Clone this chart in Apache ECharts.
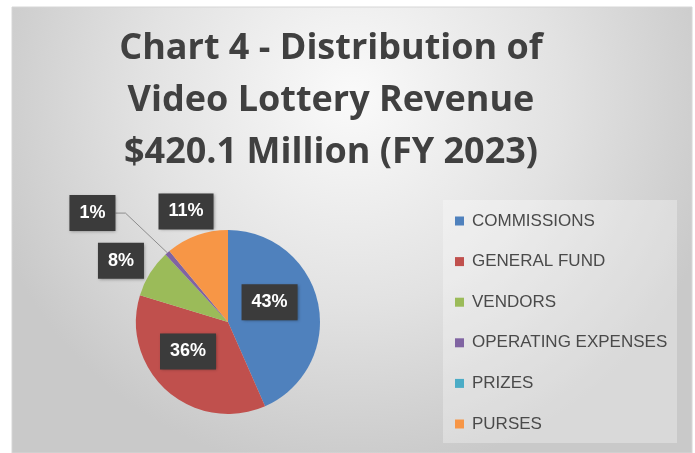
<!DOCTYPE html>
<html>
<head>
<meta charset="utf-8">
<script src="https://cdn.jsdelivr.net/npm/echarts@6/dist/echarts.min.js"></script>
<style>
html,body{margin:0;padding:0;background:#fff;}
#main{width:695px;height:453px;}
</style>
</head>
<body>
<div id="main"></div>
<script>
// ---- data ----
const titleLines = ['Chart 4 - Distribution of', 'Video Lottery Revenue', '$420.1 Million (FY 2023)'];
const categories = ['COMMISSIONS', 'GENERAL FUND', 'VENDORS', 'OPERATING EXPENSES', 'PRIZES', 'PURSES'];
const shares = [43.4, 36.3, 8.4, 0.9, 0, 11.0]; // percent of total revenue
const colors = ['#4F81BD', '#C0504D', '#9BBB59', '#8064A2', '#4BACC6', '#F79646'];

// ---- layout ----
const CX = 228, CY = 322, R = 92;
// label placement: k = distance as fraction of radius, da = angle nudge (deg)
const labelPlace = [
  {k: 0.50, da: -13.5},
  {k: 0.54, da: 12},
  {k: 1.34, da: -2.3},
  {k: 1.89, da: -10, line: true},
  null,
  {k: 1.285, da: -1}
];

const total = shares.reduce((a, b) => a + b, 0);
const midAngles = [];
let acc = 0;
shares.forEach(v => { midAngles.push((acc + v / 2) / total * 360); acc += v; });

const chart = echarts.init(document.getElementById('main'), null, {renderer: 'canvas'});

const pieData = categories.map((name, i) => {
  const item = {value: shares[i], name: name, itemStyle: {color: colors[i]}};
  if (!labelPlace[i]) item.label = {show: false};
  if (labelPlace[i] && labelPlace[i].line) item.labelLine = {show: true};
  return item;
});

const option = {
  animation: false,
  backgroundColor: '#ffffff',
  graphic: [
    {
      type: 'rect', z: -10, silent: true,
      shape: {x: 12, y: 7, width: 680, height: 446},
      style: {
        fill: {type: 'radial', x: 0.5, y: 0.2, r: 0.85,
          colorStops: [{offset: 0, color: '#fafafa'}, {offset: 0.55, color: '#e2e2e2'}, {offset: 1, color: '#c9c9c9'}]},
        stroke: '#d6d6d6', lineWidth: 1
      }
    },
    {
      type: 'rect', z: -9, silent: true,
      shape: {x: 443, y: 200, width: 234, height: 243},
      style: {fill: 'rgba(255,255,255,0.3)'}
    },
    {
      type: 'text', z: 10, silent: true,
      style: {
        x: 331, y: 23,
        text: titleLines.join('\n'),
        align: 'center', verticalAlign: 'top',
        fontFamily: 'Open Sans', fontWeight: 'bold', fontSize: 36,
        lineHeight: 52, fill: '#404040'
      }
    }
  ],
  legend: {
    orient: 'vertical',
    left: 455, top: 211,
    padding: 0,
    icon: 'rect',
    itemWidth: 9, itemHeight: 9,
    itemGap: 20.6,
    selectedMode: false,
    data: categories,
    textStyle: {fontFamily: 'Liberation Sans', fontSize: 17, color: '#4a4a4a', lineHeight: 20, padding: [0, 0, 0, 3]}
  },
  series: [{
    type: 'pie',
    center: [CX, CY],
    radius: R,
    startAngle: 90,
    clockwise: true,
    silent: true,
    percentPrecision: 2,
    avoidLabelOverlap: false,
    itemStyle: {borderWidth: 0},
    label: {
      show: true,
      position: 'outside',
      formatter: p => Math.round(p.percent) + '%',
      color: '#ffffff',
      fontFamily: 'Liberation Sans', fontWeight: 'bold', fontSize: 18,
      lineHeight: 18,
      backgroundColor: '#3b3b3b',
      padding: [9, 10],
      shadowColor: 'rgba(0,0,0,0.35)', shadowBlur: 3, shadowOffsetX: 1, shadowOffsetY: 1
    },
    labelLine: {show: false, lineStyle: {color: '#8c8c8c', width: 1}},
    labelLayout: function (params) {
      const i = params.dataIndex;
      const p = labelPlace[i];
      if (!p) return {};
      const rad = (midAngles[i] + p.da) * Math.PI / 180;
      const x = CX + p.k * R * Math.sin(rad);
      const y = CY - p.k * R * Math.cos(rad);
      const out = {x: x, y: y, align: 'center', verticalAlign: 'middle'};
      if (p.line) {
        const a = midAngles[i] * Math.PI / 180;
        const ex = CX + R * Math.sin(a), ey = CY - R * Math.cos(a);
        const right = x + params.labelRect.width / 2;
        out.labelLinePoints = [[ex, ey], [right + 10, y], [right, y]];
      }
      return out;
    },
    data: pieData
  }]
};
chart.setOption(option);
</script>
</body>
</html>
